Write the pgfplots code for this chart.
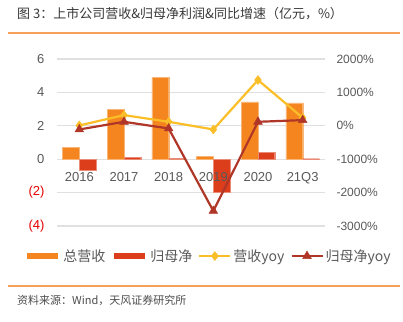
\documentclass[border=0pt]{standalone}
\usepackage{pgfplots}
\pgfplotsset{compat=1.18}
\usepackage{fontspec}
\setmainfont{Liberation Sans}
\newfontfamily\cjk{Noto Sans CJK SC}
\definecolor{cOr}{RGB}{245,134,31}
\definecolor{cRd}{RGB}{220,61,27}
\definecolor{cYl}{RGB}{250,190,40}
\definecolor{cBr}{RGB}{176,55,40}
\definecolor{cTx}{RGB}{89,89,89}
\definecolor{cGr}{RGB}{224,224,224}
\definecolor{cLn}{RGB}{247,160,90}
\definecolor{cNeg}{RGB}{230,0,0}
\begin{document}
\begin{tikzpicture}
\useasboundingbox (0,0) rectangle (403pt,321pt);
\node[anchor=west, inner sep=0pt, text=black!78] at (17pt,307pt) {\fontsize{13}{15}\cjk 图 3：上市公司营收\&归母净利润\&同比增速（亿元，\%）};
\draw[cLn, line width=1.2pt] (8pt,288pt) -- (400pt,288pt);
\draw[cLn, line width=1.2pt] (8pt,35pt) -- (400pt,35pt);
\node[anchor=west, inner sep=0pt, text=black!70] at (17pt,21pt) {\fontsize{11}{13}\cjk 资料来源：Wind，天风证券研究所};
\begin{axis}[
  at={(57pt,95pt)}, anchor=south west,
  scale only axis, width=268pt, height=167pt,
  xmin=-0.5, xmax=5.5, ymin=-4, ymax=6,
  axis x line*=middle, axis y line*=left,
  axis line style={draw=none},
  major tick length=0pt,
  xtick=\empty,
  ytick={-4,-2,0,2,4,6},
  yticklabels={\textcolor{cNeg}{(4)},\textcolor{cNeg}{(2)},0,2,4,6},
  yticklabel style={font=\fontsize{13}{15}\selectfont, text=cTx, xshift=-9pt},
  ymajorgrids, grid style={cGr, line width=1.3pt},
  ybar=0pt, bar width=16.7pt,
]
\addplot[fill=cOr, draw=cOr!60!white, line width=0.3pt] coordinates {(0,0.70) (1,2.97) (2,4.89) (3,0.19) (4,3.43) (5,3.37)};
\addplot[fill=cRd, draw=cRd!60!white, line width=0.3pt] coordinates {(0,-0.66) (1,0.12) (2,0.04) (3,-1.96) (4,0.42) (5,0.03)};
\end{axis}
\begin{axis}[
  at={(57pt,95pt)}, anchor=south west,
  scale only axis, width=268pt, height=167pt,
  xmin=-0.5, xmax=5.5, ymin=-4, ymax=6,
  axis x line*=middle, axis y line=none,
  axis line style={draw=none},
  major tick length=0pt,
  xtick={0,1,2,3,4,5},
  xticklabels={2016,2017,2018,2019,2020,21Q3},
  xticklabel style={yshift=-10pt, font=\fontsize{13}{15}\selectfont, text=cTx},
]
\addplot[draw=none, mark=none] coordinates {(0,0) (5,0)};
\end{axis}
\begin{axis}[
  at={(57pt,95pt)}, anchor=south west,
  scale only axis, width=268pt, height=167pt,
  xmin=-0.5, xmax=5.5, ymin=-3000, ymax=2000,
  axis x line=none, axis y line*=right,
  axis line style={draw=none},
  major tick length=0pt,
  ytick={-3000,-2000,-1000,0,1000,2000},
  yticklabels={-3000\%,-2000\%,-1000\%,0\%,1000\%,2000\%},
  yticklabel style={font=\fontsize{12}{14}\selectfont, text=cTx, xshift=8pt},
  legend style={at={(0.565,-0.18)}, anchor=center, draw=none, fill=none,
    legend columns=-1, font=\fontsize{14}{16}\cjk\color{cTx},
    /tikz/every even column/.append style={column sep=4pt},
    inner sep=0pt},
  legend image code/.code={\draw[mark repeat=2, mark phase=2, #1] plot coordinates {(0pt,0pt) (15.5pt,0pt) (31pt,0pt)};},
]
\addlegendimage{cOr, line width=6pt}
\addlegendentry{总营收}
\addlegendimage{cRd, line width=6pt}
\addlegendentry{归母净}
\addplot[cYl, line width=2.2pt, mark=diamond*, mark size=4.5pt, mark options={fill=cYl, draw=cYl, line width=0.5pt}] coordinates {(0,10) (1,320) (2,120) (3,-110) (4,1370) (5,240)};
\addlegendentry{营收yoy}
\addplot[cBr, line width=2.2pt, mark=triangle*, mark size=5pt, mark options={fill=cBr, draw=cBr, line width=0.5pt}] coordinates {(0,-110) (1,120) (2,-80) (3,-2550) (4,120) (5,170)};
\addlegendentry{归母净yoy}
\end{axis}
\end{tikzpicture}
\end{document}
